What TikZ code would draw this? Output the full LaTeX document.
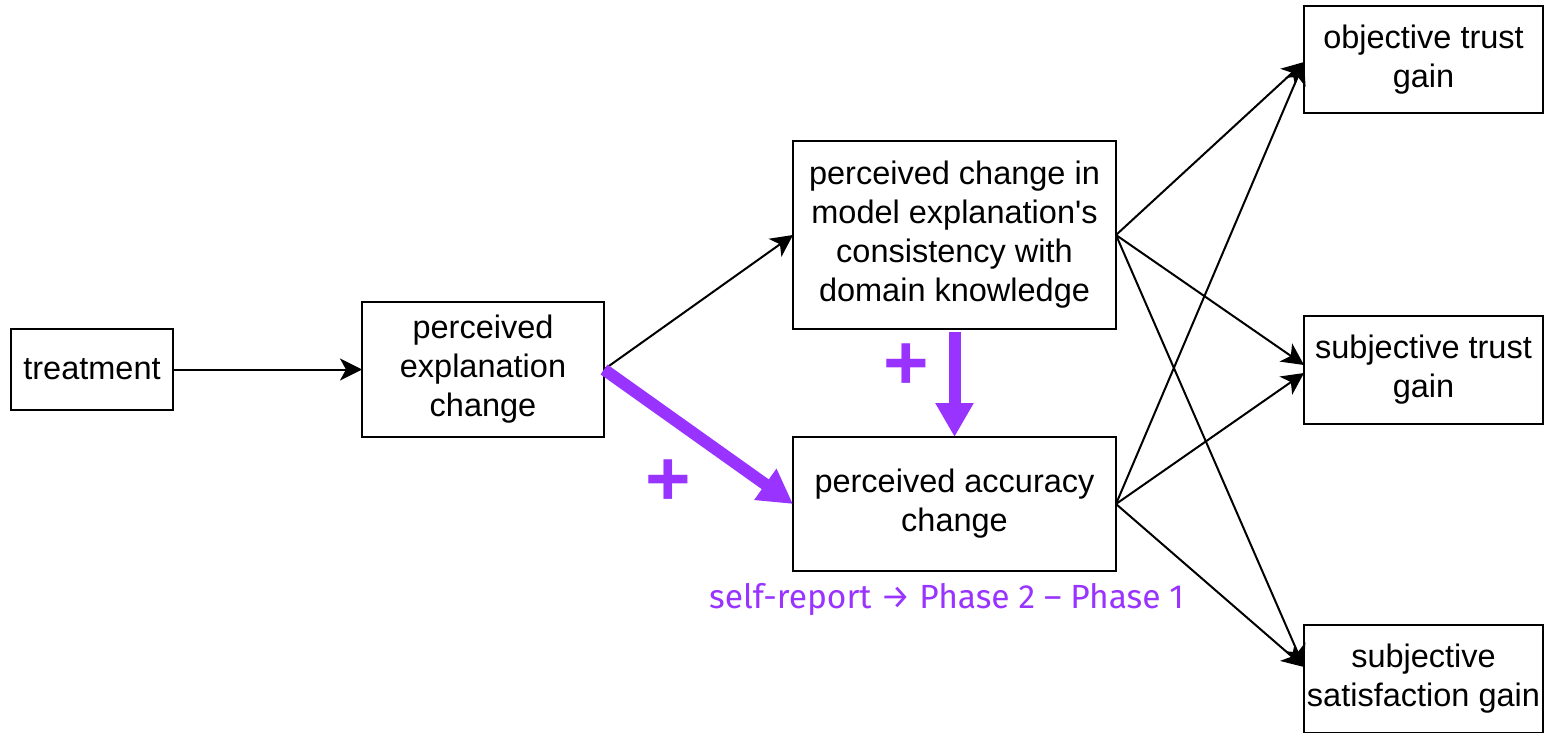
\documentclass[tikz,border=0pt]{standalone}
\usepackage{fontspec}
\setmainfont{Liberation Sans}
\newfontfamily\notefont{Fira Sans}
\usetikzlibrary{arrows.meta,positioning,calc}
\definecolor{effectpurple}{HTML}{9933FF}

\begin{document}
\begin{tikzpicture}[
  x=1pt, y=1pt,
  font=\fontsize{32.5}{39}\selectfont,
  box/.style={draw=black, line width=2.5pt, fill=white, align=center,
    inner sep=0pt, outer sep=0pt},
  arrow/.style={-{Stealth[length=22pt, width=22pt, inset=6pt]}, line width=2pt},
  effect/.style={-{Triangle[length=34pt, width=36pt]}, line width=12pt, draw=effectpurple},
  plus/.style={text=effectpurple, font=\bfseries\fontsize{78}{78}\selectfont, inner sep=0pt},
  note/.style={text=effectpurple, font=\notefont\fontsize{33.5}{38}\selectfont, inner sep=0pt}
]
\useasboundingbox (0,0) rectangle (1545,-733);

\node[box, minimum width=162pt, minimum height=81pt] (treat) at (92,-369.5) {treatment};
\node[box, minimum width=242pt, minimum height=135pt, right=189pt of treat] (expl) {
  perceived\\ explanation\\ change
};
\node[box, minimum width=323pt, minimum height=188pt, right=189pt of expl, yshift=134.5pt] (consist) {
  perceived change in\\ model explanation\textquotesingle s\\ consistency with\\ domain knowledge
};
\node[box, minimum width=323pt, minimum height=134pt, below=108pt of consist] (acc) {
  perceived accuracy\\ change
};
\node[box, minimum width=239pt, minimum height=107pt, right=188pt of consist, yshift=175.5pt] (obj) {
  objective trust\\ gain
};
\node[box, minimum width=239pt, minimum height=108pt, below=203pt of obj] (trust) {
  subjective trust\\ gain
};
\node[box, minimum width=239pt, minimum height=108pt, below=201pt of trust] (sat) {
  subjective\\ satisfaction gain
};

\draw[arrow] (treat) -- (expl);
\draw[arrow] (expl.east) -- (consist.west);
\draw[arrow] (consist.east) -- ([yshift=-2.5pt]obj.west);
\draw[arrow] (consist.east) -- ([yshift=5pt]trust.west);
\draw[arrow] (consist.east) -- ([yshift=12pt]sat.west);
\draw[arrow] (acc.east) -- ([yshift=-2.5pt]obj.west);
\draw[arrow] (acc.east) -- ([yshift=-3pt]trust.west);
\draw[arrow] (acc.east) -- ([yshift=12pt]sat.west);

% effects
\draw[effect] (expl.east) -- (acc.west);
\draw[effect] ([yshift=-3pt]consist.south) -- (acc.north);
\node[plus] (plusA) at (906,-367) {+};
\node[plus] (plusB) at (668,-483) {+};

\node[note, below=12pt of acc, xshift=-8pt] (phase) {self-report → Phase 2 – Phase 1};
\end{tikzpicture}
\end{document}
